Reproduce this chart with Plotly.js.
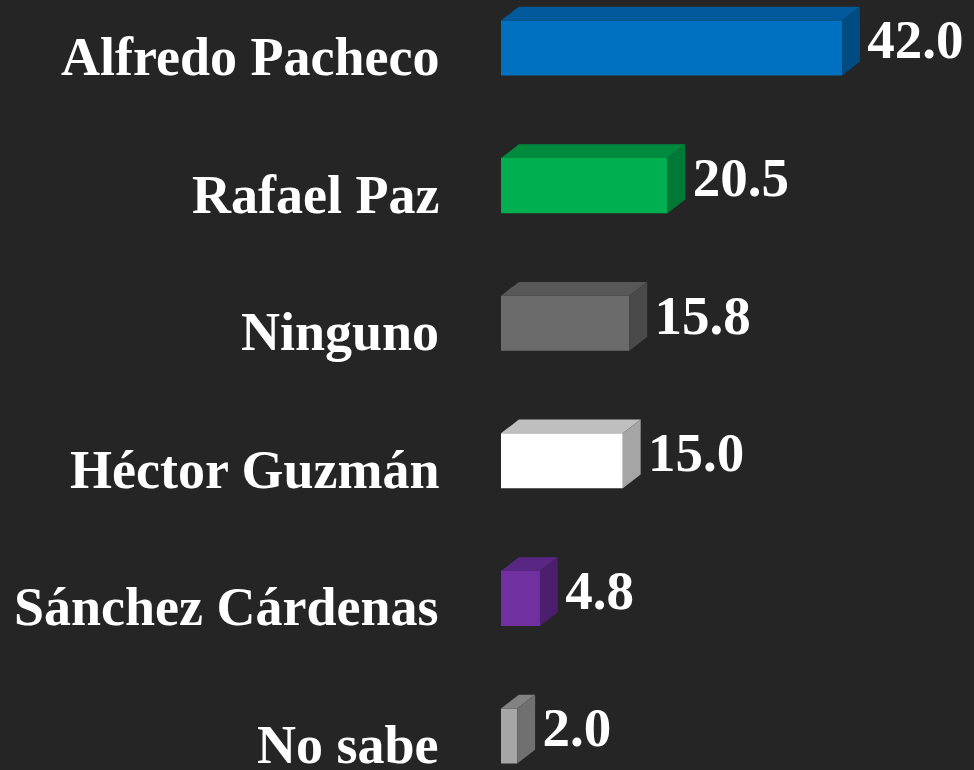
<!DOCTYPE html>
<html>
<head>
<meta charset="utf-8">
<script src="https://cdn.plot.ly/plotly-3.0.1.min.js"></script>
<style>
  html, body { margin: 0; padding: 0; background: #252525; }
  #chart { width: 974px; height: 770px; }
</style>
</head>
<body>
<div id="chart"></div>
<script>
// ---- data ----
const categories = ["Alfredo Pacheco", "Rafael Paz", "Ninguno", "Héctor Guzmán", "Sánchez Cárdenas", "No sabe"];
const values = [42.0, 20.5, 15.8, 15.0, 4.8, 2.0];
const valueLabels = ["42.0", "20.5", "15.8", "15.0", "4.8", "2.0"];

// ---- styles ----
const frontColors = ["#0070c0", "#00b050", "#6b6b6b", "#ffffff", "#7030a0", "#a6a6a6"];
const topColors   = ["#00599a", "#008a3e", "#585858", "#bfbfbf", "#5a2683", "#828282"];
const sideColors  = ["#004b82", "#007836", "#4a4a4a", "#a5a5a5", "#4b1f6d", "#707070"];

const n = categories.length;
const pos = categories.map((c, i) => n - 1 - i);   // top to bottom
const halfW = 0.2;     // half bar thickness (category units)
const depthX = 2.2;    // 3D depth in value units
const depthY = 0.10;   // 3D depth in category units
const labelGap = 0.9;  // gap between bar and value label (value units)
const fontFam = "Liberation Serif, Times New Roman, serif";

const traces = [];

// front faces
traces.push({
  type: "bar",
  orientation: "h",
  x: values,
  y: pos,
  width: halfW * 2,
  marker: { color: frontColors, line: { width: 0 } },
  hoverinfo: "skip",
  showlegend: false
});

// top and side faces
values.forEach((v, i) => {
  const p = pos[i];
  traces.push({
    type: "scatter", mode: "none", fill: "toself",
    fillcolor: topColors[i],
    x: [0, v, v + depthX, depthX, 0],
    y: [p + halfW, p + halfW, p + halfW + depthY, p + halfW + depthY, p + halfW],
    hoverinfo: "skip", showlegend: false
  });
  traces.push({
    type: "scatter", mode: "none", fill: "toself",
    fillcolor: sideColors[i],
    x: [v, v, v + depthX, v + depthX, v],
    y: [p - halfW, p + halfW, p + halfW + depthY, p - halfW + depthY, p - halfW],
    hoverinfo: "skip", showlegend: false
  });
});

// value labels
traces.push({
  type: "scatter",
  mode: "text",
  x: values.map(v => v + depthX + labelGap),
  y: pos.map(p => p + depthY * 0.25),
  text: valueLabels,
  textposition: "middle right",
  textfont: { family: fontFam, size: 55, color: "#ffffff", weight: "bold" },
  cliponaxis: false,
  hoverinfo: "skip",
  showlegend: false
});

// category labels (left of the bars)
const annotations = categories.map((c, i) => ({
  xref: "paper", yref: "y",
  x: 0, y: pos[i],
  xanchor: "right", yanchor: "middle",
  xshift: -60, yshift: -9,
  text: c,
  showarrow: false,
  font: { family: fontFam, size: 54, color: "#ffffff", weight: "bold" }
}));

const pxPerUnit = 8.12;
const plotW = 974 - 501;

const layout = {
  width: 974,
  height: 770,
  margin: { l: 501, r: 0, t: 0, b: 0 },
  paper_bgcolor: "#252525",
  plot_bgcolor: "#252525",
  showlegend: false,
  annotations: annotations,
  xaxis: {
    range: [0, plotW / pxPerUnit],
    visible: false,
    fixedrange: true
  },
  yaxis: {
    range: [-0.247, 5.349],
    tickvals: pos,
    showticklabels: false,
    ticks: "",
    showgrid: false,
    zeroline: false,
    showline: false,
    fixedrange: true
  }
};

Plotly.newPlot("chart", traces, layout, { displayModeBar: false, staticPlot: true });
</script>
</body>
</html>
